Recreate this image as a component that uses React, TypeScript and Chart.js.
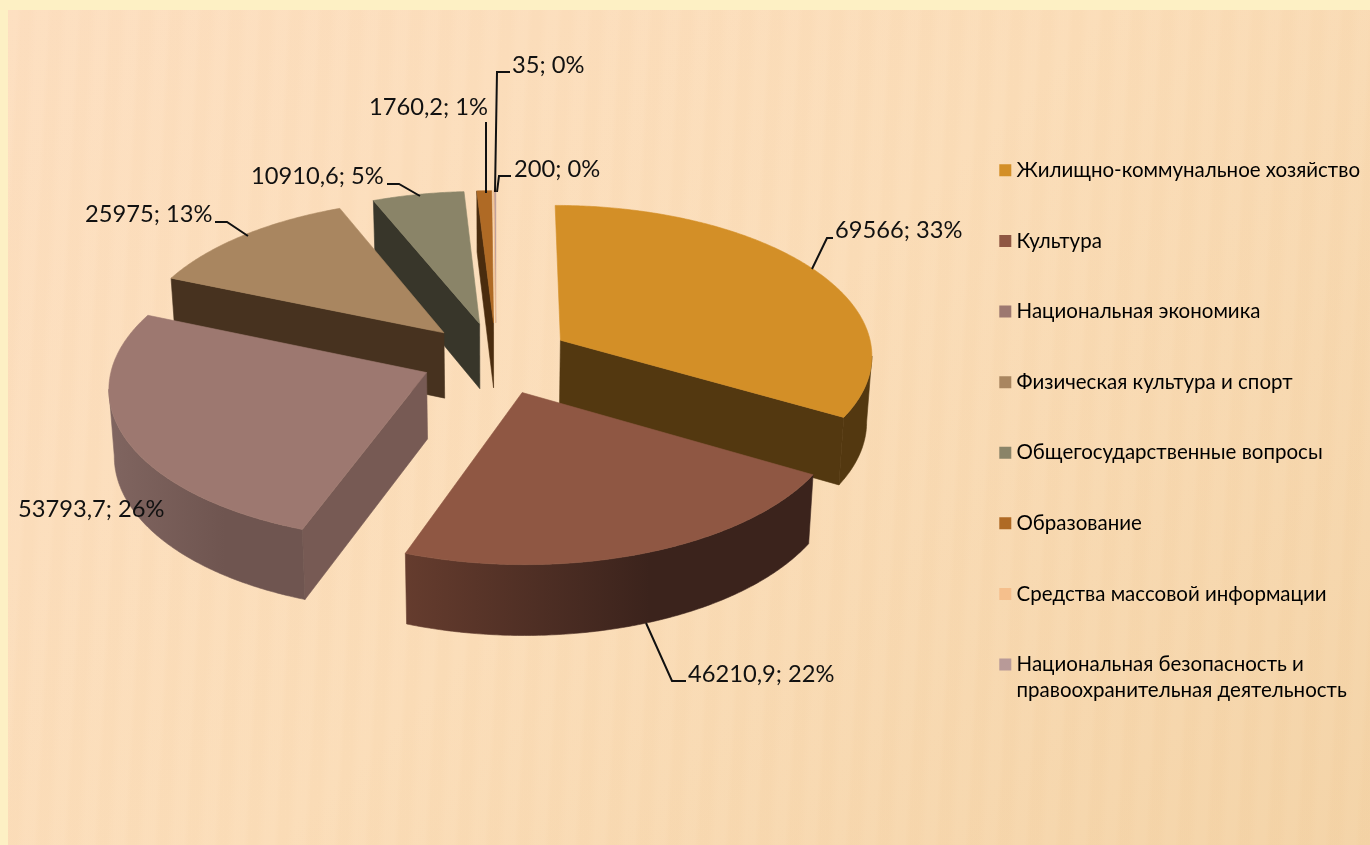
import React, { useEffect, useRef } from "react";
import { Chart, registerables } from "chart.js";

Chart.register(...registerables);

// ---- data ----
const categories = [
  "Жилищно-коммунальное хозяйство",
  "Культура",
  "Национальная экономика",
  "Физическая культура и спорт",
  "Общегосударственные вопросы",
  "Образование",
  "Средства массовой информации",
  "Национальная безопасность и правоохранительная деятельность",
];
const values = [69566, 46210.9, 53793.7, 25975, 10910.6, 1760.2, 35, 200];
const percents = [33, 22, 26, 13, 5, 1, 0, 0];
const topColors = ["#D38F27", "#8F5743", "#9D7870", "#A98660", "#8A8468", "#AF6A25", "#F5BF8C", "#B89A98"];
const legendColors = ["#D38F27", "#8F5743", "#9D7870", "#A98660", "#8A8468", "#AF6A25", "#F5BF8C", "#B89A98"];
const wallLeft = ["#533810", "#653C2E", "#806560", "#47321F", "#33332A", "#4A2C0E", "#8A6A4A", "#7A6260"];
const wallRight = ["#533810", "#3B231C", "#6F5550", "#47321F", "#33332A", "#4A2C0E", "#8A6A4A", "#7A6260"];
const faceColors = ["#533810", "#3B231C", "#775A54", "#47321F", "#38362A", "#4A2C0E", "#8A6A4A", "#7A6260"];

// ---- label layout (text anchor and leader polyline for each slice) ----
const labelAnchors: [number, number][] = [
  [835, 230], [688, 674], [18, 509], [85, 214], [251, 176], [369, 107], [512, 65], [514, 169],
];
const leaders: [number, number][][] = [
  [[812, 269], [827, 238], [833, 238]],
  [[646, 623], [672, 681], [686, 681]],
  [],
  [[248, 236], [227, 222], [215, 222]],
  [[420, 196], [399, 184], [387, 184]],
  [[486, 193], [486, 122]],
  [[495, 192], [497, 72], [510, 72]],
  [[497, 192], [499, 176], [511, 176]],
];

// ---- camera ----
const CX = 496, CY = 358, A = 313, B = 150, K = 0.09, EXPLODE = 0.24, DEPTH = 66, SHRINK = 0.986;
const FONT = "Lato, 'Noto Sans', sans-serif";

function project(u: number, v: number, bottom: boolean): [number, number] {
  const w = 1 - K * v;
  let x = CX + (A * u) / w;
  let y = CY + (B * v) / w;
  if (bottom) {
    x = CX + (x - CX) * SHRINK;
    y += DEPTH * (1 + 0.06 * v);
  }
  return [x, y];
}

function poly(ctx: CanvasRenderingContext2D, pts: [number, number][], fill: string | CanvasGradient) {
  ctx.beginPath();
  pts.forEach((p, i) => (i ? ctx.lineTo(p[0], p[1]) : ctx.moveTo(p[0], p[1])));
  ctx.closePath();
  ctx.fillStyle = fill;
  ctx.strokeStyle = fill;
  ctx.lineWidth = 0.6;
  ctx.fill();
  ctx.stroke();
}

const pie3d = {
  id: "pie3d",
  beforeDatasetsDraw(chart: any) {
    const ctx: CanvasRenderingContext2D = chart.ctx;
    const arcs = chart.getDatasetMeta(0).data;
    const slices = arcs.map((arc: any, i: number) => {
      const s = arc.startAngle + Math.PI / 2;
      const e = arc.endAngle + Math.PI / 2;
      const m = (s + e) / 2;
      return { i, s, e, ou: EXPLODE * Math.sin(m), ov: -EXPLODE * Math.cos(m) };
    });
    slices.sort((p: any, q: any) => p.ov - q.ov);
    ctx.save();
    for (const sl of slices) {
      const { i, s, e, ou, ov } = sl;
      const n = Math.max(2, Math.ceil((e - s) / 0.01));
      const rim: { t: [number, number]; b: [number, number] }[] = [];
      for (let j = 0; j <= n; j++) {
        const th = s + ((e - s) * j) / n;
        const u = ou + Math.sin(th), v = ov - Math.cos(th);
        rim.push({ t: project(u, v, false), b: project(u, v, true) });
      }
      const at = project(ou, ov, false), ab = project(ou, ov, true);
      const first = rim[0], last = rim[rim.length - 1];
      // radial cut faces (a face nearly edge-on is not visible)
      if (first.t[0] < at[0] - 8) poly(ctx, [at, first.t, first.b, ab], faceColors[i]);
      if (at[0] < last.t[0] - 8) poly(ctx, [last.t, at, ab, last.b], faceColors[i]);
      // outer wall: contiguous runs moving leftwards on screen
      let run: typeof rim = [];
      const flush = () => {
        if (run.length > 1) {
          const xs = run.map((r) => r.t[0]);
          const g = ctx.createLinearGradient(Math.min(...xs), 0, Math.max(...xs), 0);
          g.addColorStop(0, wallLeft[i]);
          g.addColorStop(0.6, wallRight[i]);
          g.addColorStop(1, wallRight[i]);
          poly(ctx, [...run.map((r) => r.t), ...run.slice().reverse().map((r) => r.b)], g);
        }
        run = [];
      };
      for (let j = 0; j < n; j++) {
        if (rim[j + 1].t[0] < rim[j].t[0]) {
          if (!run.length) run.push(rim[j]);
          run.push(rim[j + 1]);
        } else flush();
      }
      flush();
      // top face
      poly(ctx, [at, ...rim.map((r) => r.t)], topColors[i]);
    }
    ctx.restore();
    return false;
  },
  afterDraw(chart: any) {
    const ctx: CanvasRenderingContext2D = chart.ctx;
    ctx.save();
    ctx.strokeStyle = "#111";
    ctx.lineWidth = 2;
    leaders.forEach((l) => {
      if (!l.length) return;
      ctx.beginPath();
      l.forEach((p, i) => (i ? ctx.lineTo(p[0], p[1]) : ctx.moveTo(p[0], p[1])));
      ctx.stroke();
    });
    ctx.fillStyle = "#111";
    ctx.font = `23.7px ${FONT}`;
    ctx.textBaseline = "middle";
    ctx.textAlign = "left";
    values.forEach((val, i) => {
      const txt = `${String(val).replace(".", ",")}; ${percents[i]}%`;
      ctx.fillText(txt, labelAnchors[i][0], labelAnchors[i][1]);
    });
    ctx.restore();
  },
};

export default function App() {
  const ref = useRef<HTMLCanvasElement>(null);
  useEffect(() => {
    const chart = new Chart(ref.current!, {
      type: "pie",
      data: {
        labels: categories,
        datasets: [{ data: values, backgroundColor: topColors }],
      },
      options: {
        animation: false,
        responsive: false,
        layout: { padding: { top: 110, right: 0, left: 0, bottom: 0 } },
        plugins: {
          tooltip: { enabled: false },
          legend: {
            position: "right",
            align: "start",
            labels: {
              boxWidth: 2,
              boxHeight: 2,
              padding: 50.1,
              color: "#111",
              font: { family: FONT, size: 20.5, lineHeight: 1.27 },
              generateLabels: () =>
                categories.map((c, i) => ({
                  text: i === 7 ? ["Национальная безопасность и", "правоохранительная деятельность"] : c,
                  fillStyle: legendColors[i],
                  strokeStyle: legendColors[i],
                  lineWidth: 10,
                  hidden: false,
                  index: i,
                })) as any,
            },
          },
        },
      },
      plugins: [pie3d],
    } as any);
    return () => chart.destroy();
  }, []);
  return (
    <div
      style={{
        position: "fixed",
        inset: 0,
        overflow: "hidden",
        background: "#FDF0C4",
      }}
    >
      <div
        style={{
          position: "absolute",
          left: 8,
          top: 10,
          right: 0,
          bottom: 0,
          background:
            "repeating-linear-gradient(93deg, rgba(255,255,255,0.025) 0 9px, rgba(190,130,60,0.015) 14px 22px, rgba(255,255,255,0.025) 30px), linear-gradient(135deg, #FDDFC0 0%, #FBDDB8 50%, #F4D3A6 100%)",
        }}
      />
      <canvas ref={ref} width={1370} height={845} style={{ position: "absolute", left: 0, top: 0 }} />
    </div>
  );
}
